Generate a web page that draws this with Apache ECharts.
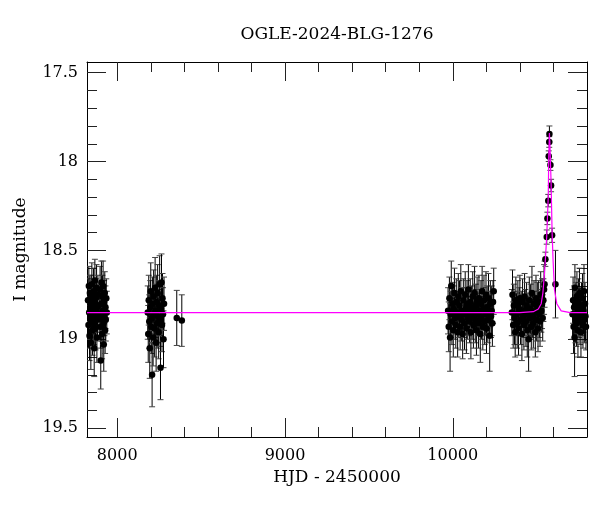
<!DOCTYPE html>
<html><head><meta charset="utf-8">
<script src="https://cdn.jsdelivr.net/npm/echarts@6/dist/echarts.min.js"></script>
<style>html,body{margin:0;padding:0;background:#fff}#c{width:600px;height:512px}</style>
</head><body><div id="c"></div>
<script>
// [HJD-2450000, I mag, error]
var season1 = [
[7826,18.78,0.12],[7829,18.92,0.13],[7831,18.70,0.11],[7833,18.85,0.12],[7835,18.98,0.14],[7837,18.74,0.10],[7839,18.88,0.12],[7841,18.81,0.11],[7843,19.02,0.15],[7845,18.76,0.12],[7847,18.90,0.13],[7849,18.69,0.12],[7851,18.83,0.11],[7853,18.95,0.14],[7855,18.79,0.12],[7857,18.86,0.11],[7859,18.73,0.13],[7861,18.91,0.12],[7863,19.05,0.16],[7865,18.80,0.12],[7867,18.67,0.12],[7869,18.87,0.13],[7871,18.94,0.12],[7873,18.77,0.11],[7875,18.84,0.12],[7877,18.71,0.13],[7879,18.99,0.14],[7881,18.82,0.12],[7883,18.89,0.12],[7885,18.75,0.11],
[7896,18.86,0.12],[7898,18.72,0.13],[7900,18.93,0.12],[7902,19.12,0.16],[7904,18.80,0.11],[7906,18.68,0.12],[7908,18.88,0.13],[7910,18.97,0.14],[7912,18.76,0.12],[7914,18.84,0.11],[7916,18.70,0.14],[7918,18.91,0.12],[7920,19.03,0.15],[7922,18.79,0.12],[7924,18.87,0.11],[7926,18.74,0.12],[7928,18.95,0.13],[7930,18.82,0.12],[7932,18.89,0.12],[7935,18.77,0.11],[7938,18.85,0.12]
];
var season2 = [
[8182,18.85,0.15],[8185,18.97,0.16],[8188,18.78,0.14],[8191,18.90,0.15],[8194,19.05,0.17],[8197,18.82,0.15],[8200,18.73,0.16],[8203,18.93,0.15],[8206,18.88,0.14],[8208,19.20,0.18],[8211,18.80,0.15],[8214,18.99,0.16],[8217,18.76,0.15],[8220,18.86,0.14],[8223,18.94,0.16],[8226,18.71,0.17],[8229,18.84,0.15],[8232,19.02,0.16],[8235,18.79,0.15],[8238,18.91,0.14],[8241,18.74,0.16],[8244,18.87,0.15],[8247,18.96,0.15],[8250,18.81,0.14],[8253,18.69,0.16],[8256,18.89,0.15],[8258,19.16,0.18],[8261,18.83,0.15],[8264,18.68,0.16],[8267,18.92,0.15],[8270,18.77,0.14],[8273,18.86,0.15],[8276,19.00,0.16],[8279,18.80,0.15]
];
var season2b = [[8355,18.88,0.155],[8385,18.895,0.145]];
var season3 = [
[9972,18.84,0.13],[9976,18.93,0.14],[9980,18.77,0.12],[9984,18.99,0.19],[9988,18.86,0.13],[9991,18.70,0.14],[9995,18.90,0.13],[9999,18.80,0.12],[10003,18.95,0.15],[10006,18.83,0.13],[10010,18.74,0.14],[10014,18.88,0.12],[10018,18.92,0.13],[10021,18.79,0.13],[10025,18.85,0.12],[10029,18.96,0.14],[10033,18.76,0.13],[10036,18.87,0.12],[10040,18.81,0.14],[10044,18.93,0.13],[10048,18.73,0.15],[10051,18.89,0.12],[10055,18.84,0.13],[10059,18.97,0.14],[10063,18.78,0.12],[10066,18.86,0.13],[10070,18.91,0.15],[10074,18.75,0.13],[10078,18.83,0.12],[10081,18.94,0.14],[10085,18.80,0.13],[10089,18.88,0.12],[10093,18.72,0.14],[10096,18.85,0.13],[10100,18.90,0.12],[10104,18.79,0.13],[10108,18.96,0.15],[10111,18.82,0.12],[10115,18.87,0.13],[10119,18.76,0.14],[10123,18.92,0.13],[10126,18.84,0.12],[10130,18.74,0.15],[10134,18.89,0.13],[10138,18.81,0.12],[10141,18.95,0.14],[10145,18.78,0.13],[10149,18.86,0.12],[10153,18.91,0.14],[10156,18.77,0.13],[10160,18.84,0.12],[10164,18.97,0.16],[10168,18.80,0.13],[10171,18.88,0.12],[10175,18.73,0.14],[10179,18.93,0.13],[10183,18.83,0.12],[10186,18.78,0.14],[10190,18.90,0.13],[10194,18.86,0.12],[10198,18.75,0.13],[10201,18.94,0.14],[10205,18.82,0.12],[10209,18.89,0.13],[10213,18.77,0.14],[10216,18.85,0.12],[10220,18.98,0.20],[10224,18.80,0.13],[10228,18.87,0.12],[10232,18.84,0.14],[10236,18.91,0.13],[10240,18.79,0.12],[10244,18.73,0.13]
];
var season4 = [
[10352,18.85,0.13],[10356,18.75,0.14],[10360,18.92,0.13],[10364,18.81,0.12],[10368,18.88,0.15],[10372,18.96,0.14],[10376,18.78,0.13],[10380,18.86,0.12],[10384,18.91,0.14],[10388,18.80,0.13],[10392,18.94,0.15],[10396,18.83,0.12],[10400,18.77,0.13],[10404,18.89,0.14],[10408,18.85,0.12],[10412,18.97,0.15],[10416,18.79,0.13],[10420,18.87,0.12],[10424,18.92,0.14],[10428,18.76,0.13],[10432,18.84,0.12],[10436,18.90,0.14],[10440,18.81,0.13],[10444,18.95,0.15],[10448,18.86,0.12],[10452,19.00,0.18],[10456,18.78,0.13],[10460,18.88,0.12],[10464,18.83,0.14],[10468,18.93,0.13],[10472,18.74,0.15],[10476,18.87,0.12],[10480,18.91,0.14],[10484,18.80,0.13],[10488,18.85,0.12],[10492,18.96,0.14],[10496,18.77,0.13],[10500,18.89,0.12],[10504,18.82,0.14],[10508,18.94,0.13],[10512,18.79,0.12],[10516,18.86,0.13],[10520,18.90,0.14],[10524,18.75,0.13],[10528,18.84,0.12],[10532,18.80,0.14],[10536,18.88,0.13],[10540,18.78,0.12],[10544,18.72,0.14],[10547,18.69,0.13]
];
var peak = [
[10552,18.55,0.04],[10560,18.425,0.04],[10564,18.32,0.035],[10569,18.22,0.035],[10572,17.97,0.03],[10575,17.89,0.03],[10576,17.845,0.045],[10582,18.02,0.03],[10586,18.135,0.035],[10592,18.415,0.04],[10612,18.69,0.19]
];
var season5 = [
[10714,18.86,0.14],[10717,18.78,0.13],[10720,18.93,0.15],[10723,18.82,0.12],[10726,18.99,0.22],[10728,18.71,0.13],[10731,18.88,0.14],[10734,18.80,0.12],[10737,18.91,0.13],[10740,18.76,0.14],[10743,18.85,0.12],[10746,18.95,0.15],[10749,18.79,0.13],[10752,18.87,0.12],[10755,18.74,0.14],[10758,18.90,0.13],[10761,18.83,0.12],[10764,18.96,0.14],[10767,18.81,0.13],[10770,18.86,0.12],[10773,18.77,0.14],[10776,18.92,0.13],[10779,18.84,0.12],[10782,18.73,0.15],[10785,18.89,0.13],[10788,18.80,0.12],[10791,18.87,0.14],[10794,18.93,0.13]
];
var modelT = [7820,10400,10480,10510,10527,10537,10545,10552,10560,10564,10569,10572,10576,10579,10582,10586,10592,10598,10606,10620,10646,10700,10800];
var modelM = [18.85,18.85,18.845,18.83,18.80,18.74,18.65,18.55,18.42,18.32,18.20,17.98,17.84,17.90,18.00,18.12,18.40,18.56,18.72,18.80,18.84,18.85,18.85];
var xMajor = [8000,9000,10000];
var xMinor = [8200,8400,8600,8800,9200,9400,9600,9800,10200,10400,10600];
var yMajor = [17.5,18,18.5,19,19.5];
var yMinor = [17.6,17.7,17.8,17.9,18.1,18.2,18.3,18.4,18.6,18.7,18.8,18.9,19.1,19.2,19.3,19.4];
var titleText = 'OGLE-2024-BLG-1276';
var xName = 'HJD - 2450000';
var yName = 'I magnitude';

var allPts = [].concat(season1, season2, season2b, season3, season4, peak, season5);
var modelData = modelT.map(function(t,i){return [t, modelM[i]];});
var FONT = 'DejaVu Serif';
var X0 = 7820, X1 = 10800, Y0 = 17.44, Y1 = 19.55;

function xAx(pos, vals, len, showLine, labels){
  return {type:'value', position:pos, min:X0, max:X1, gridIndex:0,
    axisLine:{show:showLine, onZero:false, lineStyle:{color:'#000', width:1}},
    axisTick:{show:true, inside:true, length:len, customValues:vals, lineStyle:{color:'#222', width:1}},
    axisLabel:labels ? {show:true, customValues:vals, color:'#000', fontFamily:FONT, fontSize:16, margin:11,
      formatter:function(v){return String(v);}} : {show:false},
    splitLine:{show:false}};
}
function yAx(pos, vals, len, showLine, labels){
  return {type:'value', position:pos, min:Y0, max:Y1, inverse:true, gridIndex:0,
    axisLine:{show:showLine, onZero:false, lineStyle:{color:'#000', width:1}},
    axisTick:{show:true, inside:true, length:len, customValues:vals, lineStyle:{color:'#222', width:1}},
    axisLabel:labels ? {show:true, customValues:vals, color:'#000', fontFamily:FONT, fontSize:16, margin:9,
      formatter:function(v){return String(v);}} : {show:false},
    splitLine:{show:false}};
}
var xa0 = xAx('bottom', xMajor, 19, true, true);
xa0.name = xName; xa0.nameLocation = 'middle'; xa0.nameGap = 31;
xa0.nameTextStyle = {color:'#000', fontFamily:FONT, fontSize:17};
var ya0 = yAx('left', yMajor, 19, true, true);
ya0.name = yName; ya0.nameLocation = 'middle'; ya0.nameGap = 58;
ya0.nameTextStyle = {color:'#000', fontFamily:FONT, fontSize:17};

var chart = echarts.init(document.getElementById('c'), null, {renderer:'canvas'});
chart.setOption({
  animation:false,
  backgroundColor:'#fff',
  grid:{left:87, right:13, top:62, bottom:75, containLabel:false},
  graphic:[{type:'text', x:337, y:35, style:{text:titleText, fill:'#000', font:'17px "DejaVu Serif"', textAlign:'center', textVerticalAlign:'middle'}}],
  xAxis:[xa0, xAx('bottom', xMinor, 10, false, false), xAx('top', xMajor, 19, true, false), xAx('top', xMinor, 10, false, false)],
  yAxis:[ya0, yAx('left', yMinor, 10, false, false), yAx('right', yMajor, 19, true, false), yAx('right', yMinor, 10, false, false)],
  series:[
    {type:'custom', xAxisIndex:0, yAxisIndex:0, clip:true, z:2,
     data:allPts, encode:{x:0, y:1},
     renderItem:function(params, api){
       var t=api.value(0), m=api.value(1), e=api.value(2);
       var a=api.coord([t, m-e]), b=api.coord([t, m+e]);
       var hw=3;
       return {type:'group', children:[
         {type:'line', shape:{x1:a[0], y1:a[1], x2:b[0], y2:b[1]}, style:{stroke:'#000', lineWidth:1}},
         {type:'line', shape:{x1:a[0]-hw, y1:a[1], x2:a[0]+hw, y2:a[1]}, style:{stroke:'#444', lineWidth:1}},
         {type:'line', shape:{x1:b[0]-hw, y1:b[1], x2:b[0]+hw, y2:b[1]}, style:{stroke:'#444', lineWidth:1}}
       ]};
     }},
    {type:'scatter', xAxisIndex:0, yAxisIndex:0, z:3, symbol:'circle', symbolSize:6.5,
     itemStyle:{color:'#000', opacity:1}, data:allPts.map(function(p){return [p[0], p[1]];})},
    {type:'line', xAxisIndex:0, yAxisIndex:0, z:4, showSymbol:false, symbol:'none', smooth:false,
     lineStyle:{color:'#ff00ff', width:1.2}, data:modelData}
  ]
});
</script></body></html>
